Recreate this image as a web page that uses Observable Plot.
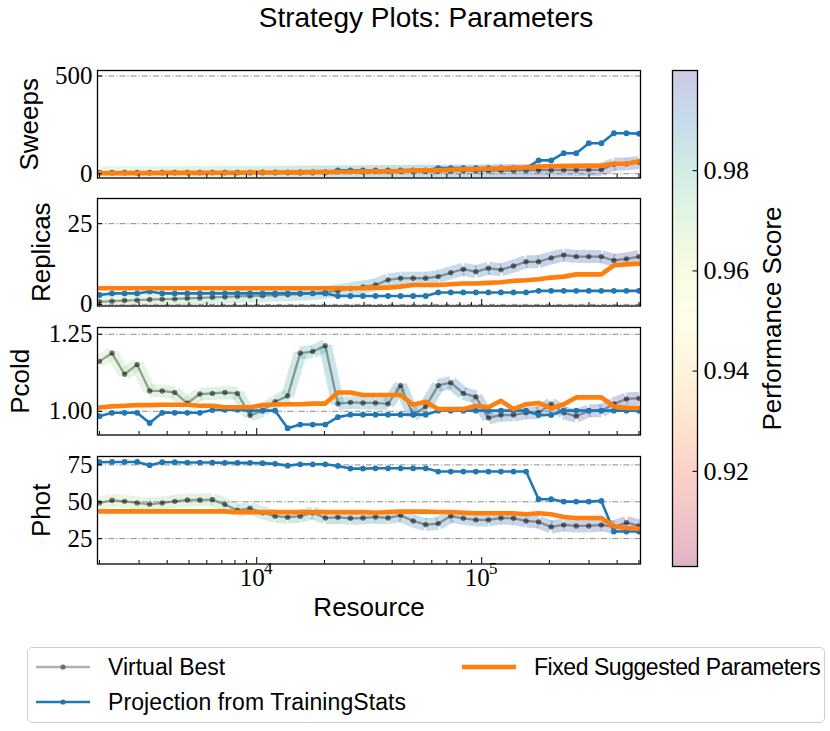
<!DOCTYPE html>
<html><head><meta charset="utf-8">
<script src="https://cdn.jsdelivr.net/npm/d3@7"></script>
<script src="https://cdn.jsdelivr.net/npm/@observablehq/plot@0.6"></script>
<style>
body{margin:0;background:#fff;}
#root{position:relative;width:830px;height:731px;overflow:hidden;font-family:"Liberation Sans",sans-serif;background:#fff;}
.abs{position:absolute;}
#title{position:absolute;left:0;top:2px;width:852px;text-align:center;font-size:28px;color:#000;}
#legend{position:absolute;left:27px;top:647px;width:796px;height:74px;border:1.3px solid #cfcfcf;border-radius:5px;}
.li{position:absolute;font-size:23px;line-height:26px;white-space:nowrap;color:#000;}
.sw{position:absolute;}
</style></head><body><div id="root"><div id="title">Strategy Plots: Parameters</div></div>
<script>
// ---------- data ----------
const resource = [2000, 2274, 2586, 2940, 3343, 3801, 4322, 4914, 5587, 6353, 7223, 8213, 9338, 10618, 12073, 13727, 15608, 17746, 20178, 22943, 26087, 29661, 33726, 38347, 43601, 49576, 56369, 64093, 72876, 82861, 94216, 107126, 121805, 138495, 157473, 179051, 203585, 231482, 263201, 299267, 340275, 386902, 439918, 500000];
const score = [0.968,0.969,0.970,0.970,0.971,0.972,0.972,0.973,0.973,0.974, 0.975,0.976,0.977,0.978,0.979,0.981,0.982,0.983,0.984,0.985, 0.985,0.986,0.987,0.987,0.988,0.988,0.989,0.989,0.990,0.990, 0.991,0.992,0.992,0.993,0.993,0.994,0.994,0.995,0.995,0.996, 0.996,0.997,0.997,0.998];

const vbSweeps = [5,5,5,5,5,6,6,6,6,7, 7,7,7,8,8,8,9,9,9,10, 10,10,11,11,11,12,12,13,13,14, 14,15,16,16,17,18,18,19,19,20, 20,48,50,58];
const projSweeps = [6,6,6,6,6,6,6,6,6,6, 6,6,6,6,6,6,6,6,6,17, 17,17,17,17,17,17,17,29,29,29, 29,29,29,29,29,68,68,105,105,156, 156,207,207,205];
const fixedSweeps = [3,3,3,3,3,4,4,4,4,5, 5,5,6,6,6,7,7,8,8,9, 10,11,12,12,14,17,17,17,20,22, 23,25,28,30,32,36,38,39,40,40, 41,51,51,64];

const vbReplicas = [0.8,1.0,1.2,1.3,1.5,1.6,1.7,1.9,2.0,2.2, 2.3,2.5,2.6,2.7,2.9,3.0,3.2,3.4,3.8,4.2, 4.9,5.4,6.0,7.6,8.1,8.1,8.1,8.6,9.8,10.9, 10.1,11.2,10.7,11.9,13.2,13.2,14.4,15.3,14.8,14.8, 14.8,13.6,14.1,14.8];
const projReplicas = [2.9,3.4,3.4,3.4,4.0,3.4,3.4,3.4,3.4,3.4, 3.4,3.4,3.4,3.4,3.4,3.4,3.4,3.4,3.4,2.6, 2.6,2.6,2.6,2.6,2.6,2.6,2.6,3.7,3.7,3.7, 3.7,3.7,3.7,3.7,3.7,4.2,4.2,4.2,4.2,4.2, 4.2,4.2,4.2,4.2];
const fixedReplicas = [5,5,5,5,5,5,5,5,5,5, 5,5,5,5,5,5,5,5,5,5, 5,5,5.2,5.2,5.5,6.0,6.0,6.0,6.25,6.45, 6.45,6.66,6.86,7.27,7.48,7.79,8.3,8.6,9.3,9.3, 9.3,12.1,12.4,12.6];

const vbPcold = [1.162,1.189,1.120,1.152,1.066,1.066,1.061,1.026,1.056,1.058, 1.061,1.058,0.986,1.002,1.031,1.050,1.189,1.194,1.213,1.024, 1.029,1.027,1.027,1.024,1.084,0.988,1.015,1.084,1.093,1.058, 1.047,0.978,0.988,0.988,0.995,0.995,1.024,0.995,0.984,1.002, 1.002,1.024,1.040,1.042];
const projPcold = [0.984,0.995,0.995,0.995,0.962,0.995,0.995,0.995,0.995,1.004, 1.005,1.005,1.002,1.002,1.002,0.945,0.957,0.957,0.957,0.981, 0.989,0.989,0.989,0.989,0.989,0.989,0.989,1.002,1.002,1.002, 1.002,1.002,1.002,1.002,1.002,0.988,0.988,1.002,1.002,1.002, 1.002,1.002,1.002,1.002];
const fixedPcold = [1.012,1.016,1.018,1.020,1.020,1.021,1.021,1.021,1.018,1.018, 1.013,1.013,1.013,1.020,1.022,1.023,1.023,1.025,1.025,1.061, 1.061,1.053,1.053,1.053,1.053,1.021,1.031,1.007,1.007,1.007, 1.018,1.013,1.034,1.007,1.023,1.027,1.010,1.023,1.045,1.045, 1.045,1.016,1.011,1.011];

const vbPhot = [49.2,51.0,50.3,49.2,48.3,49.2,50.3,51.2,51.2,51.5, 48.1,44.2,45.6,42.6,40.2,39.5,40.2,42.6,39.0,39.5, 38.8,39.0,39.7,39.0,40.8,37.0,34.5,35.2,40.3,38.8, 37.7,37.7,39.0,38.8,37.0,36.3,32.9,34.3,33.6,33.6, 34.3,32.9,35.9,33.6];
const projPhot = [76.8,77,77,77,74.8,76.8,76.8,76.6,76.6,76.6, 76.4,76.4,76.4,76.2,75.7,74.5,75.4,75.4,75.4,74.3, 72.5,72.5,72.7,72.7,72.7,72.7,72.7,70.5,70.5,70.5, 70.5,70.5,70.5,70.5,70.5,51.7,51.7,50.1,50.1,50.1, 50.6,29.8,29.8,29.8];
const fixedPhot = [43.5,43.5,43.5,43.5,43.5,43.5,43.5,43.5,43.5,43.5, 43.5,43.0,43.0,43.0,43.0,43.0,43.0,43.0,43.0,43.0, 43.0,43.0,42.6,43.1,43.3,43.3,43.3,43.1,43.1,42.6, 42.2,42.2,42.2,42.2,41.5,42.2,41.5,39.7,39.0,39.0, 39.0,33.4,32.2,31.8];

const panelLabels = ["Sweeps", "Replicas", "Pcold", "Phot"];
const yTicksSweeps = [0, 500];
const yTicksReplicas = [0, 25];
const yTicksPcold = [1.00, 1.25];
const yTicksPhot = [25, 50, 75];
const xMajorTicks = [1e4, 1e5];
const xMinorTicks = [2000,3000,4000,5000,6000,7000,8000,9000,20000,30000,40000,50000,60000,70000,80000,90000,200000,300000,400000,500000];
const colorbarTicks = [0.92, 0.94, 0.96, 0.98];
const seriesNames = ["Virtual Best", "Projection from TrainingStats", "Fixed Suggested Parameters"];

// ---------- layout ----------
const xDomain = [1960, 508000];
const scoreDomain = [0.901, 1.0];
const BLUE = "#1f77b4", ORANGE = "#ff7f0e";
const root = document.getElementById("root");
const SERIF = "Liberation Serif, DejaVu Serif, serif";
const SANS = "Liberation Sans, Arial, sans-serif";

function panel(cfg) {
  const {label, vb, proj, fixed, domain, ticks, fmt, top, labelDx, last} = cfg;
  const frameH = 107.5, mt = 16, mb = last ? 80 : 6;
  const rows = resource.map((r, i) => ({r, vb: vb[i], proj: proj[i], fixed: fixed[i], s: score[i]}));
  const segs = rows.slice(0, -1).map((d, i) => ({x1: d.r, y1: d.vb, x2: rows[i + 1].r, y2: rows[i + 1].vb, s: (d.s + rows[i + 1].s) / 2}));
  const marks = [
    Plot.ruleY(ticks, {stroke: "#8c8c8c", strokeWidth: 1, strokeDasharray: "6,2,1.2,2"}),
    Plot.link(segs, {x1: "x1", y1: "y1", x2: "x2", y2: "y2", stroke: "s", strokeWidth: 13, strokeOpacity: 0.3, strokeLinecap: "butt", clip: true}),
    Plot.line(rows, {x: "r", y: "vb", stroke: "black", strokeOpacity: 0.35, strokeWidth: 2.3, clip: true}),
    Plot.dot(rows, {x: "r", y: "vb", r: 2.7, fill: "black", fillOpacity: 0.5, stroke: null, clip: true}),
    Plot.line(rows, {x: "r", y: "proj", stroke: BLUE, strokeWidth: 2.6, clip: true}),
    Plot.dot(rows, {x: "r", y: "proj", r: 2.9, fill: BLUE, stroke: null, clip: true}),
    Plot.line(rows, {x: "r", y: "fixed", stroke: ORANGE, strokeWidth: 4.6, clip: true}),
    Plot.dot(rows, {x: "r", y: "fixed", r: 1.8, fill: ORANGE, stroke: null, clip: true}),
    Plot.frame({stroke: "black", strokeWidth: 1.3}),
    Plot.axisY(ticks, {anchor: "left", tickSize: -5, tickPadding: 10, tickFormat: fmt, fontSize: 25, fontFamily: SERIF, label: null}),
    Plot.axisX(xMajorTicks, {anchor: "bottom", tickSize: -6.5, tickFormat: () => "", label: null}),
    Plot.axisX(xMinorTicks, {anchor: "bottom", tickSize: -3.5, tickFormat: () => "", label: null}),
    Plot.text([label], {frameAnchor: "left", dx: labelDx, rotate: -90, textAnchor: "middle", lineAnchor: "middle", fontSize: 26, fontFamily: SANS, fill: "black"})
  ];
  if (last) {
    marks.push(
      Plot.text(xMajorTicks, {x: d => d, text: () => "10", frameAnchor: "bottom", dx: -4.5, dy: 22, fontSize: 25, fontFamily: SERIF, fill: "black"}),
      Plot.text(xMajorTicks, {x: d => d, text: d => String(Math.round(Math.log10(d))), frameAnchor: "bottom", dx: 11.5, dy: 10, fontSize: 17, fontFamily: SERIF, fill: "black"}),
      Plot.text(["Resource"], {frameAnchor: "bottom", dy: 52, fontSize: 26, fontFamily: SANS, fill: "black"})
    );
  }
  const chart = Plot.plot({
    width: 830, height: frameH + mt + mb,
    marginLeft: 97, marginRight: 190, marginTop: mt, marginBottom: mb,
    x: {type: "log", domain: xDomain, axis: null},
    y: {domain, axis: null},
    color: {type: "linear", scheme: "spectral", domain: scoreDomain},
    style: {background: "transparent", overflow: "visible"},
    marks
  });
  chart.classList.add("abs");
  chart.style.left = "0px";
  chart.style.top = (top - mt) + "px";
  root.appendChild(chart);
}

panel({label: panelLabels[0], vb: vbSweeps, proj: projSweeps, fixed: fixedSweeps, domain: [-22, 528], ticks: yTicksSweeps, fmt: d3.format("d"), top: 69.5, labelDx: -68});
panel({label: panelLabels[1], vb: vbReplicas, proj: projReplicas, fixed: fixedReplicas, domain: [-0.5, 32.8], ticks: yTicksReplicas, fmt: d3.format("d"), top: 198.2, labelDx: -56});
panel({label: panelLabels[2], vb: vbPcold, proj: projPcold, fixed: fixedPcold, domain: [0.923, 1.272], ticks: yTicksPcold, fmt: d3.format(".2f"), top: 326.9, labelDx: -77});
panel({label: panelLabels[3], vb: vbPhot, proj: projPhot, fixed: fixedPhot, domain: [7.8, 80.7], ticks: yTicksPhot, fmt: d3.format("d"), top: 455.6, labelDx: -56, last: true});

// ---------- colorbar ----------
function pastel(v) {
  const t = (v - scoreDomain[0]) / (scoreDomain[1] - scoreDomain[0]);
  const c = d3.rgb(d3.interpolateSpectral(Math.max(0, Math.min(1, t))));
  const a = 0.3;
  return d3.rgb(c.r * a + 255 * (1 - a), c.g * a + 255 * (1 - a), c.b * a + 255 * (1 - a)).formatHex();
}
const step = 0.0005;
const bins = d3.range(scoreDomain[0], scoreDomain[1], step);
const cb = Plot.plot({
  width: 190, height: 530,
  marginLeft: 32, marginRight: 133, marginTop: 15, marginBottom: 19,
  x: {domain: [0, 1], axis: null},
  y: {domain: scoreDomain, axis: null},
  style: {background: "transparent", overflow: "visible"},
  marks: [
    Plot.rect(bins, {x1: 0, x2: 1, y1: d => d, y2: d => Math.min(scoreDomain[1], d + step * 1.6), fill: d => pastel(d + step / 2)}),
    Plot.frame({stroke: "black", strokeWidth: 1.3}),
    Plot.axisY(colorbarTicks, {anchor: "right", tickSize: -5.5, tickPadding: 11.5, tickFormat: d3.format(".2f"), fontSize: 26, fontFamily: SERIF, label: null}),
    Plot.text(["Performance Score"], {frameAnchor: "right", dx: 75, rotate: -90, textAnchor: "middle", lineAnchor: "middle", fontSize: 26, fontFamily: SANS, fill: "black"})
  ]
});
cb.classList.add("abs");
cb.style.left = "640px";
cb.style.top = "55px";
root.appendChild(cb);

// ---------- legend ----------
const legend = document.createElement("div");
legend.id = "legend";
root.appendChild(legend);
const legendItems = [
  {name: seriesNames[0], left: 8, top: 6, stroke: "#b0b0b0", sw: 2.6, dot: "#6e6e6e", r: 2.6, ls: 0},
  {name: seriesNames[2], left: 434, top: 6, stroke: ORANGE, sw: 4.6, dot: ORANGE, r: 1.8, ls: -0.45},
  {name: seriesNames[1], left: 8, top: 41, stroke: BLUE, sw: 2.6, dot: BLUE, r: 2.6, ls: 0.1}
];
for (const it of legendItems) {
  const ns = "http://www.w3.org/2000/svg";
  const svg = document.createElementNS(ns, "svg");
  svg.setAttribute("width", 56); svg.setAttribute("height", 26);
  svg.setAttribute("class", "sw");
  svg.style.left = it.left + "px"; svg.style.top = it.top + "px";
  const ln = document.createElementNS(ns, "line");
  ln.setAttribute("x1", 0); ln.setAttribute("x2", 54); ln.setAttribute("y1", 13); ln.setAttribute("y2", 13);
  ln.setAttribute("stroke", it.stroke); ln.setAttribute("stroke-width", it.sw);
  svg.appendChild(ln);
  const c = document.createElementNS(ns, "circle");
  c.setAttribute("cx", 27); c.setAttribute("cy", 13); c.setAttribute("r", it.r); c.setAttribute("fill", it.dot);
  svg.appendChild(c);
  legend.appendChild(svg);
  const t = document.createElement("div");
  t.className = "li"; t.textContent = it.name;
  t.style.left = (it.left + 72) + "px"; t.style.top = it.top + "px";
  t.style.letterSpacing = it.ls + "px";
  legend.appendChild(t);
}
</script></body></html>
